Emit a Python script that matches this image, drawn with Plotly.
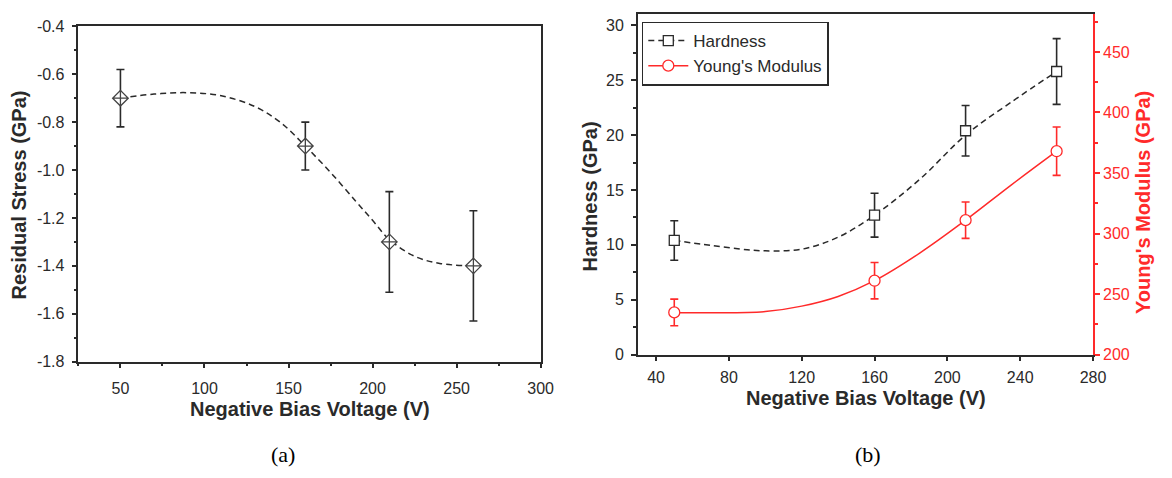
import plotly.graph_objects as go

# ---------------- data ----------------
# Panel (a): residual stress
bias_a = [50, 160, 210, 260]
stress = [-0.70, -0.90, -1.30, -1.40]
stress_err = [0.12, 0.10, 0.21, 0.23]
stress_fit_x = [50, 70, 90, 110, 130, 145, 160, 175, 190, 200, 210, 225, 240, 260]
stress_fit_y = [-0.70, -0.683, -0.677, -0.69, -0.735, -0.80, -0.90, -1.01, -1.13,
                -1.21, -1.29, -1.36, -1.39, -1.40]
stress_ticks = [-1.8, -1.6, -1.4, -1.2, -1.0, -0.8, -0.6, -0.4]
stress_tick_text = ["-1.8", "-1.6", "-1.4", "-1.2", "-1.0", "-0.8", "-0.6", "-0.4"]

# Panel (b): hardness and Young's modulus
bias_b = [50, 160, 210, 260]
hardness = [10.4, 12.7, 20.4, 25.8]
hardness_err = [1.8, 2.0, 2.3, 3.0]
hard_fit_x = [50, 70, 90, 100, 120, 140, 160, 185, 210, 235, 260]
hard_fit_y = [10.4, 9.95, 9.55, 9.45, 9.6, 10.7, 12.7, 16.0, 20.0, 23.0, 25.8]

modulus = [234.8, 261.0, 311.0, 368.0]
modulus_err = [11, 15, 15, 20]
mod_fit_x = [50, 70, 100, 120, 140, 160, 185, 210, 235, 260]
mod_fit_y = [234.5, 234.5, 235.5, 240, 248, 261, 284, 311, 340, 368]

# ---------------- styling ----------------
W, H = 1172, 478
FONT = "Liberation Sans, Arial, sans-serif"
DARK = "#2a2a2a"
GRAY = "#444444"
RED = "#ff2a2a"

def px_x(p):
    return p / W

def px_y(p):
    return 1 - p / H

fig = go.Figure()

# ---- Panel (a) ----
fig.add_trace(go.Scatter(
    x=stress_fit_x, y=stress_fit_y, mode="lines",
    line=dict(color=DARK, width=1.5, dash="6px,4px", shape="spline", smoothing=1),
    xaxis="x", yaxis="y", showlegend=False, hoverinfo="skip"))
fig.add_trace(go.Scatter(
    x=bias_a, y=stress, mode="markers",
    marker=dict(symbol="diamond-cross", size=12, color="white",
                line=dict(color=GRAY, width=1.3)),
    error_y=dict(type="data", array=stress_err, color=DARK, thickness=1.6, width=4),
    xaxis="x", yaxis="y", showlegend=False))

# ---- Panel (b) ----
fig.add_trace(go.Scatter(
    x=hard_fit_x, y=hard_fit_y, mode="lines",
    line=dict(color=DARK, width=1.5, dash="6px,4px", shape="spline", smoothing=1),
    xaxis="x2", yaxis="y2", showlegend=False, hoverinfo="skip"))
fig.add_trace(go.Scatter(
    x=bias_b, y=hardness, mode="markers",
    marker=dict(symbol="square", size=10, color="white",
                line=dict(color=DARK, width=1.3)),
    error_y=dict(type="data", array=hardness_err, color=DARK, thickness=1.6, width=4),
    xaxis="x2", yaxis="y2", showlegend=False))

fig.add_trace(go.Scatter(
    x=mod_fit_x, y=mod_fit_y, mode="lines",
    line=dict(color=RED, width=1.5, shape="spline", smoothing=1),
    xaxis="x2", yaxis="y3", showlegend=False, hoverinfo="skip"))
fig.add_trace(go.Scatter(
    x=bias_b, y=modulus, mode="markers",
    marker=dict(symbol="circle", size=11, color="white",
                line=dict(color=RED, width=1.3)),
    error_y=dict(type="data", array=modulus_err, color=RED, thickness=1.6, width=4),
    xaxis="x2", yaxis="y3", showlegend=False))

# legend-only entries
fig.add_trace(go.Scatter(
    x=[None], y=[None], mode="lines+markers", name="Hardness",
    line=dict(color=DARK, width=1.5, dash="6px,4px"),
    marker=dict(symbol="square", size=10, color="white", line=dict(color=DARK, width=1.3)),
    xaxis="x2", yaxis="y2"))
fig.add_trace(go.Scatter(
    x=[None], y=[None], mode="lines+markers", name="Young's Modulus",
    line=dict(color=RED, width=1.5),
    marker=dict(symbol="circle", size=11, color="white", line=dict(color=RED, width=1.3)),
    xaxis="x2", yaxis="y3"))

tickfont = dict(family=FONT, size=16, color=DARK)
redfont = dict(family=FONT, size=16, color=RED)

common = dict(showgrid=False, zeroline=False, showline=True, linewidth=1.5,
              ticks="outside", ticklen=5, tickwidth=1.5)

fig.update_layout(
    width=W, height=H,
    margin=dict(l=0, r=0, t=0, b=0),
    paper_bgcolor="white", plot_bgcolor="white",
    font=dict(family=FONT, color=DARK),
    xaxis=dict(domain=[px_x(79.3), px_x(546.7)], range=[25, 300], anchor="y",
               tickmode="linear", tick0=0, dtick=50, linecolor=DARK, tickcolor=DARK,
               mirror=True, tickfont=tickfont, ticklabelstandoff=6,
               minor=dict(ticks="outside", ticklen=3, tickwidth=1.5, dtick=25, tick0=0,
                          tickcolor=DARK),
               **common),
    yaxis=dict(domain=[px_y(366.7), px_y(19)], range=[-1.8, -0.4], anchor="x",
               tickmode="array", tickvals=stress_ticks, ticktext=stress_tick_text,
               linecolor=DARK, tickcolor=DARK, mirror=True, tickfont=tickfont,
               ticklabelstandoff=4,
               minor=dict(ticks="outside", ticklen=3, tickwidth=1.5, dtick=0.1, tick0=0,
                          tickcolor=DARK),
               **common),
    xaxis2=dict(domain=[px_x(645), px_x(1105.3)], range=[30, 280], anchor="y2",
                tickmode="linear", tick0=0, dtick=40, linecolor=DARK, tickcolor=DARK,
                mirror=True, tickfont=tickfont, ticklabelstandoff=3,
                **common),
    yaxis2=dict(domain=[px_y(359.3), px_y(6.7)], range=[0, 31], anchor="x2",
                tickmode="linear", tick0=0, dtick=5, linecolor=DARK, tickcolor=DARK,
                tickfont=tickfont, ticklabelstandoff=4,
                minor=dict(ticks="outside", ticklen=3, tickwidth=1.5, dtick=2.5, tick0=0,
                           tickcolor=DARK),
                **common),
    yaxis3=dict(domain=[px_y(359.3), px_y(6.7)], range=[200, 481], anchor="x2",
                overlaying="y2", side="right",
                tickmode="linear", tick0=0, dtick=50, linecolor=RED, tickcolor=RED,
                tickfont=redfont,
                minor=dict(ticks="outside", ticklen=3, tickwidth=1.5, dtick=25, tick0=0,
                           tickcolor=RED),
                **common),
    legend=dict(x=px_x(649), y=px_y(14), xanchor="left", yanchor="top",
                bgcolor="white", bordercolor=DARK, borderwidth=1.5,
                font=dict(family=FONT, size=17, color=DARK),
                tracegroupgap=0, itemwidth=40),
)

bold = dict(family=FONT, size=20, color=DARK, weight="bold")
annots = [
    dict(text="Residual Stress (GPa)", x=px_x(19.6), y=px_y(194), textangle=-90, font=bold),
    dict(text="Negative Bias Voltage (V)", x=px_x(313), y=px_y(416), font=bold),
    dict(text="Hardness (GPa)", x=px_x(597), y=px_y(195), textangle=-90, font=bold),
    dict(text="Young's Modulus (GPa)", x=px_x(1156), y=px_y(202), textangle=-90,
         font=dict(family=FONT, size=20, color=RED, weight="bold")),
    dict(text="Negative Bias Voltage (V)", x=px_x(876), y=px_y(404), font=bold),
    dict(text="(a)", x=px_x(286), y=px_y(463),
         font=dict(family="Liberation Serif, Times New Roman, serif", size=22, color="black")),
    dict(text="(b)", x=px_x(878), y=px_y(463),
         font=dict(family="Liberation Serif, Times New Roman, serif", size=22, color="black")),
]
for a in annots:
    a.update(xref="paper", yref="paper", showarrow=False, xanchor="center", yanchor="middle")
fig.update_layout(annotations=annots)

fig.write_html("out.html")
